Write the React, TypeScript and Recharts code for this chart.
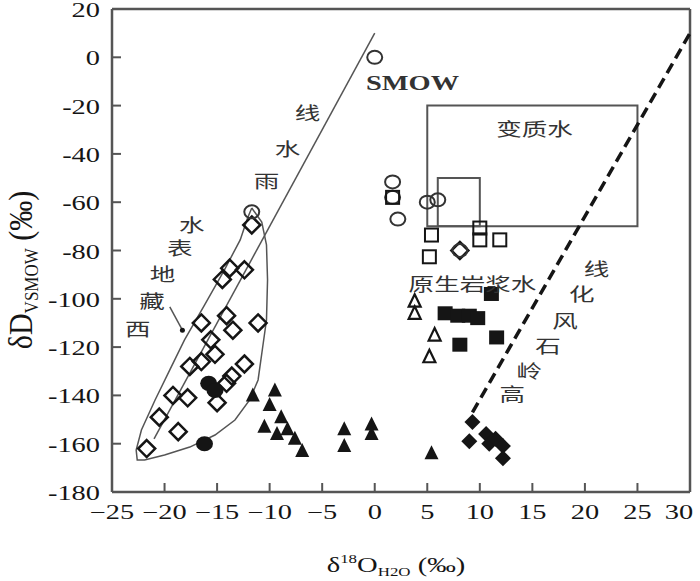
import React from "react";
import {
  ScatterChart, Scatter, XAxis, YAxis, ReferenceLine, ReferenceArea, ReferenceDot
} from "recharts";

// tick values
const xTicks = [-25, -20, -15, -10, -5, 0, 5, 10, 15, 20, 25, 30];
const yTicks = [-180, -160, -140, -120, -100, -80, -60, -40, -20, 0, 20];

// sample groups (δ18O, δD)
const openDiamonds = [
  { x: -11.7, y: -69.4 }, { x: -13.8, y: -87.3 }, { x: -14.5, y: -92 }, { x: -12.4, y: -88 },
  { x: -16.5, y: -110 }, { x: -14.1, y: -107 }, { x: -13.5, y: -113 }, { x: -11.1, y: -110 },
  { x: -15.6, y: -117 }, { x: -15.2, y: -123 }, { x: -16.5, y: -126 }, { x: -17.6, y: -128 },
  { x: -12.4, y: -127 }, { x: -13.6, y: -132 }, { x: -14.1, y: -135 }, { x: -19.2, y: -140 },
  { x: -17.8, y: -141 }, { x: -15.0, y: -143 }, { x: -20.5, y: -149 }, { x: -18.7, y: -155 },
  { x: -21.7, y: -162 }, { x: 8.1, y: -80 },
];
const filledCircles = [
  { x: -16.2, y: -160 }, { x: -15.8, y: -135 }, { x: -15.2, y: -138 },
];
const openCircles = [
  { x: 0, y: 0 }, { x: -11.7, y: -64 }, { x: 1.7, y: -51.6 }, { x: 1.7, y: -58 },
  { x: 2.2, y: -67 }, { x: 5.0, y: -60 }, { x: 6.0, y: -59 }, { x: 8.1, y: -80 },
];
const filledTriangles = [
  { x: -11.6, y: -140 }, { x: -9.5, y: -138 }, { x: -10.0, y: -144 }, { x: -10.5, y: -153 },
  { x: -8.9, y: -149 }, { x: -9.3, y: -156 }, { x: -8.3, y: -154 }, { x: -7.6, y: -158 },
  { x: -6.9, y: -163 }, { x: -2.9, y: -154 }, { x: -2.9, y: -161 }, { x: -0.3, y: -152 },
  { x: -0.3, y: -156 }, { x: 5.4, y: -164 },
];
const openTriangles = [
  { x: 3.8, y: -101 }, { x: 3.8, y: -106 }, { x: 5.7, y: -115 }, { x: 5.2, y: -124 },
];
const filledSquares = [
  { x: 11.1, y: -98 }, { x: 6.7, y: -106 }, { x: 7.9, y: -107 }, { x: 9.0, y: -107 },
  { x: 9.8, y: -108 }, { x: 11.6, y: -116 }, { x: 8.1, y: -119 },
];
const openSquares = [
  { x: 1.7, y: -58 }, { x: 5.4, y: -73.6 }, { x: 5.2, y: -82.6 }, { x: 10, y: -70.7 },
  { x: 10, y: -75.6 }, { x: 11.9, y: -75.6 },
];
const filledDiamonds = [
  { x: 9.3, y: -151 }, { x: 10.6, y: -156 }, { x: 9.0, y: -159 }, { x: 10.9, y: -160 },
  { x: 11.5, y: -158 }, { x: 12.2, y: -161 }, { x: 12.2, y: -166 },
];

// outline round the surface-water group
const outline = [
  { x: -11.7, y: -62.4 }, { x: -10.75, y: -68.2 }, { x: -10.3, y: -77.7 }, { x: -10.2, y: -92.2 },
  { x: -10.3, y: -108.8 }, { x: -10.7, y: -121.2 }, { x: -11.1, y: -133.6 }, { x: -11.9, y: -141.9 },
  { x: -13.3, y: -150.2 }, { x: -15.2, y: -156.4 }, { x: -17.6, y: -161.4 }, { x: -20, y: -164.7 },
  { x: -21.9, y: -166.7 }, { x: -22.6, y: -166.7 }, { x: -22.7, y: -162.6 }, { x: -22.2, y: -154.3 },
  { x: -20.9, y: -141.9 }, { x: -19.5, y: -129.4 }, { x: -18.1, y: -117 }, { x: -16.2, y: -102.6 },
  { x: -14.3, y: -88 }, { x: -12.8, y: -75.6 }, { x: -12.1, y: -66.5 }, { x: -11.7, y: -62.4 },
];

// lines and boxes
const meteoricLine = [{ x: -21, y: -158 }, { x: 0, y: 10 }];
const kaoliniteLine = [{ x: 9.3, y: -147 }, { x: 30, y: 10 }];
const leader = [{ x: -19.5, y: -103.3 }, { x: -18.3, y: -113 }];
const metamorphicBox = { x1: 5, x2: 25, y1: -70, y2: -20 };
const magmaticBox = { x1: 6, x2: 10, y1: -70, y2: -50 };

// annotations
const labels = [
  { x: -22.55, y: -112, t: "西" }, { x: -21.2, y: -100.5, t: "藏" }, { x: -20.2, y: -89.3, t: "地" },
  { x: -18.55, y: -78.6, t: "表" }, { x: -17.4, y: -68.8, t: "水" },
  { x: -10.3, y: -50.8, t: "雨" }, { x: -8.3, y: -37.6, t: "水" }, { x: -6.4, y: -22.7, t: "线" },
  { x: 15.2, y: -29.3, t: "变质水" }, { x: 9.3, y: -93.5, t: "原生岩浆水" },
  { x: 21.1, y: -87.2, t: "线" }, { x: 19.7, y: -97.6, t: "化" }, { x: 18.1, y: -108.8, t: "风" },
  { x: 16.5, y: -119.1, t: "石" }, { x: 14.7, y: -129.4, t: "岭" }, { x: 13.1, y: -139, t: "高" },
];
const smow = { x: 3.6, y: -10.7, t: "SMOW" };

const INK = "#151515";
const LINE = "#555";
const SERIF = "'Liberation Serif', 'Times New Roman', serif";
const CJK = "'Noto Sans CJK SC', sans-serif";
const SX = 1.42;

const XTick = ({ x, y, payload }: any) => {
  const v = payload.value;
  const s = v < 0 ? "\u2212" + Math.abs(v) : String(v);
  // last label is pulled in so it stays inside the picture
  const tx = v === 30 ? x - 11 : x;
  return (
    <g>
      <line x1={x} x2={x} y1={y} y2={y - 9} stroke={LINE} strokeWidth={2} />
      <text transform={`translate(${tx},${y + 27}) scale(${SX},1)`} textAnchor="middle"
        fontFamily={SERIF} fontSize={20} fill={INK}>{s}</text>
    </g>
  );
};

const YTick = ({ x, y, payload }: any) => (
  <g>
    <line x1={x} x2={x + 9} y1={y} y2={y} stroke={LINE} strokeWidth={2} />
    <text transform={`translate(${x - 12},${y + 8}) scale(${SX},1)`} textAnchor="end"
      fontFamily={SERIF} fontSize={20} fill={INK}>{String(payload.value)}</text>
  </g>
);

const OpenDiamond = ({ cx, cy }: any) => (
  <polygon points={`${cx},${cy - 8.5} ${cx + 8.5},${cy} ${cx},${cy + 8.5} ${cx - 8.5},${cy}`}
    fill="none" stroke={INK} strokeWidth={2.5} />
);
const FilledDiamond = ({ cx, cy }: any) => (
  <polygon points={`${cx},${cy - 8} ${cx + 8},${cy} ${cx},${cy + 8} ${cx - 8},${cy}`} fill={INK} />
);
const OpenCircle = ({ cx, cy }: any) => (
  <ellipse cx={cx} cy={cy} rx={7.5} ry={6.5} fill="none" stroke="#333" strokeWidth={2} />
);
const FilledCircle = ({ cx, cy }: any) => (
  <ellipse cx={cx} cy={cy} rx={8.5} ry={7.5} fill={INK} />
);
const FilledTriangle = ({ cx, cy }: any) => (
  <polygon points={`${cx},${cy - 8} ${cx + 7},${cy + 6} ${cx - 7},${cy + 6}`} fill={INK} />
);
const OpenTriangle = ({ cx, cy }: any) => (
  <polygon points={`${cx},${cy - 7} ${cx + 6},${cy + 5.5} ${cx - 6},${cy + 5.5}`}
    fill="none" stroke={INK} strokeWidth={2.2} />
);
const FilledSquare = ({ cx, cy }: any) => (
  <rect x={cx - 7.5} y={cy - 7} width={15} height={14} fill={INK} />
);
const OpenSquare = ({ cx, cy }: any) => (
  <rect x={cx - 6.5} y={cy - 6.5} width={13} height={13} fill="none" stroke={INK} strokeWidth={2} />
);
const NoShape = () => <g />;

const Label = (text: string, size: number, font: string, weight = "normal") => (p: any) => (
  <text transform={`translate(${p.cx},${p.cy}) scale(${SX},1)`} textAnchor="middle"
    dominantBaseline="central" fontFamily={font} fontSize={size} fontWeight={weight} fill="#333">
    {text}
  </text>
);

export default function App() {
  return (
    <div style={{ position: "absolute", left: 0, top: 0, background: "#fff" }}>
      <ScatterChart width={700} height={581} margin={{ top: 9, right: 10, bottom: 0, left: 0 }}>
        <XAxis type="number" dataKey="x" domain={[-25, 30]} ticks={xTicks} interval={0}
          tick={<XTick />} tickLine={false} tickSize={0} tickMargin={0} height={89}
          axisLine={{ stroke: LINE, strokeWidth: 2.5 }} allowDataOverflow />
        <YAxis type="number" dataKey="y" domain={[-180, 20]} ticks={yTicks} interval={0}
          tick={<YTick />} tickLine={false} tickSize={0} tickMargin={0} width={112}
          axisLine={{ stroke: LINE, strokeWidth: 2.5 }} allowDataOverflow />
        <ReferenceLine y={20} stroke={LINE} strokeWidth={2.5} />
        <ReferenceLine x={30} stroke={LINE} strokeWidth={2.5} />

        <ReferenceArea {...metamorphicBox} fill="none" stroke={LINE} strokeWidth={2} fillOpacity={0} />
        <ReferenceArea {...magmaticBox} fill="none" stroke={LINE} strokeWidth={2} fillOpacity={0} />
        <ReferenceLine segment={meteoricLine} stroke={LINE} strokeWidth={1.5} />
        <ReferenceLine segment={kaoliniteLine} stroke={INK} strokeWidth={3.5} strokeDasharray="11 6" />
        <ReferenceLine segment={leader} stroke={LINE} strokeWidth={1.5} />
        <ReferenceDot x={leader[1].x} y={leader[1].y} r={2.5} fill={INK} stroke="none" />

        <Scatter data={outline} line={{ stroke: LINE, strokeWidth: 1.5 }} lineType="joint"
          shape={NoShape} isAnimationActive={false} legendType="none" />

        <Scatter data={openDiamonds} shape={OpenDiamond} isAnimationActive={false} />
        <Scatter data={filledCircles} shape={FilledCircle} isAnimationActive={false} />
        <Scatter data={openCircles} shape={OpenCircle} isAnimationActive={false} />
        <Scatter data={filledTriangles} shape={FilledTriangle} isAnimationActive={false} />
        <Scatter data={openTriangles} shape={OpenTriangle} isAnimationActive={false} />
        <Scatter data={filledSquares} shape={FilledSquare} isAnimationActive={false} />
        <Scatter data={openSquares} shape={OpenSquare} isAnimationActive={false} />
        <Scatter data={filledDiamonds} shape={FilledDiamond} isAnimationActive={false} />

        {labels.map((l, i) => (
          <ReferenceDot key={i} x={l.x} y={l.y} r={0} shape={Label(l.t, 18, CJK)} />
        ))}
        <ReferenceDot x={smow.x} y={smow.y} r={0} shape={Label(smow.t, 20, SERIF, "bold")} />
      </ScatterChart>

      {/* axis titles */}
      <svg width={700} height={581} style={{ position: "absolute", left: 0, top: 0, pointerEvents: "none" }}>
        <text transform="translate(32,270) scale(1.15,1) rotate(-90)" textAnchor="middle"
          fontFamily={SERIF} fontSize={30} fill={INK}>
          δD<tspan fontSize={17} dy={5}>VSMOW</tspan><tspan dy={-5}> (‰)</tspan>
        </text>
        <text transform="translate(396,572) scale(1.3,1)" textAnchor="middle"
          fontFamily={SERIF} fontSize={22} fill={INK}>
          δ<tspan fontSize={13} dy={-9}>18</tspan><tspan dy={9}>O</tspan>
          <tspan fontSize={13} dy={4}>H2O</tspan><tspan dy={-4}> (‰)</tspan>
        </text>
      </svg>
    </div>
  );
}
